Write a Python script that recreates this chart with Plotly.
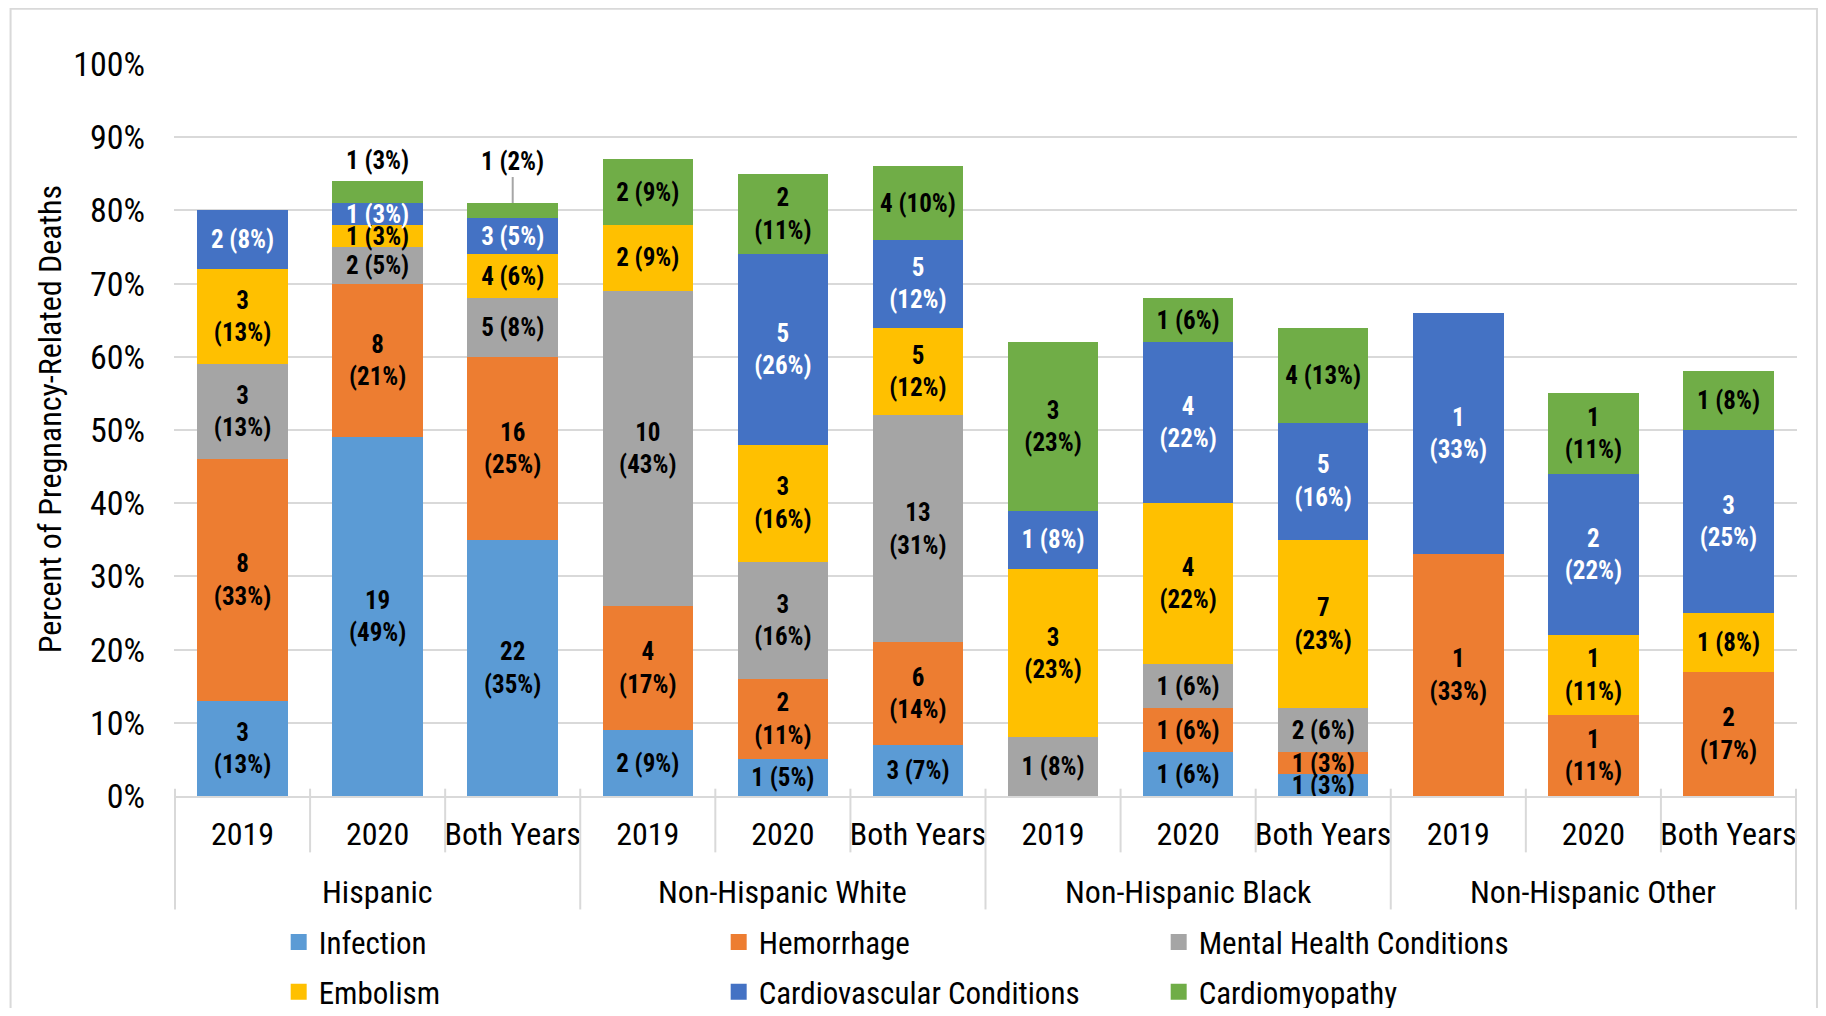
import plotly.graph_objects as go

group_names = ["Hispanic", "Non-Hispanic White", "Non-Hispanic Black", "Non-Hispanic Other"]
year_names = ["2019", "2020", "Both Years"]
groups = [g for g in group_names for _ in year_names]
years = year_names * len(group_names)

causes = ["Infection", "Hemorrhage", "Mental Health Conditions",
          "Embolism", "Cardiovascular Conditions", "Cardiomyopathy"]

# deaths (count) and percent of group deaths, per cause, None = no deaths
infection_n = [3, 19, 22, 2, 1, 3, None, 1, 1, None, None, None]
infection_pct = [13, 49, 35, 9, 5, 7, None, 6, 3, None, None, None]
hemorrhage_n = [8, 8, 16, 4, 2, 6, None, 1, 1, 1, 1, 2]
hemorrhage_pct = [33, 21, 25, 17, 11, 14, None, 6, 3, 33, 11, 17]
mental_n = [3, 2, 5, 10, 3, 13, 1, 1, 2, None, None, None]
mental_pct = [13, 5, 8, 43, 16, 31, 8, 6, 6, None, None, None]
embolism_n = [3, 1, 4, 2, 3, 5, 3, 4, 7, None, 1, 1]
embolism_pct = [13, 3, 6, 9, 16, 12, 23, 22, 23, None, 11, 8]
cardio_n = [2, 1, 3, None, 5, 5, 1, 4, 5, 1, 2, 3]
cardio_pct = [8, 3, 5, None, 26, 12, 8, 22, 16, 33, 22, 25]
cardiomyo_n = [None, 1, 1, 2, 2, 4, 3, 1, 4, None, 1, 1]
cardiomyo_pct = [None, 3, 2, 9, 11, 10, 23, 6, 13, None, 11, 8]

# which labels Excel wrapped onto two lines
wrapped = {
    "Infection": [0, 1, 2],
    "Hemorrhage": [0, 1, 2, 3, 4, 5, 9, 10, 11],
    "Mental Health Conditions": [0, 3, 4, 5],
    "Embolism": [0, 4, 5, 6, 7, 8, 10],
    "Cardiovascular Conditions": [4, 5, 7, 8, 9, 10, 11],
    "Cardiomyopathy": [4, 6, 10],
}

counts = [infection_n, hemorrhage_n, mental_n, embolism_n, cardio_n, cardiomyo_n]
pcts = [infection_pct, hemorrhage_pct, mental_pct, embolism_pct, cardio_pct, cardiomyo_pct]
colors = ["#5B9BD5", "#ED7D31", "#A5A5A5", "#FFC000", "#4472C4", "#70AD47"]
text_colors = ["black", "black", "black", "black", "white", "black"]
legend_rows = ["legend", "legend", "legend", "legend2", "legend2", "legend2"]

FONT = "Liberation Sans Narrow, Arial Narrow, Roboto Condensed, Arial, sans-serif"
GRID = "#D9D9D9"

# unique category keys, shown with the year as tick text
keys = [f"{g} {y}" for g, y in zip(groups, years)]

fig = go.Figure()

for cause, n, p, col, tcol, leg in zip(causes, counts, pcts, colors, text_colors, legend_rows):
    labels = []
    for i, (c, v) in enumerate(zip(n, p)):
        if c is None:
            labels.append("")
        elif cause == "Cardiomyopathy" and i in (1, 2):
            labels.append("")  # drawn above the bar instead
        elif i in wrapped[cause]:
            labels.append(f"{c}<br>({v}%)")
        else:
            labels.append(f"{c} ({v}%)")
    fig.add_trace(go.Bar(
        x=keys,
        y=p,
        name=cause,
        showlegend=False,
        marker=dict(color=col, line=dict(width=0)),
        text=labels,
        textposition="inside",
        insidetextanchor="middle",
        textangle=0,
        textfont=dict(family=FONT, size=25, color=tcol, weight="bold"),
        hoverinfo="skip",
    ))
    # legend entry with a larger square swatch
    fig.add_trace(go.Scatter(
        x=[None], y=[None], mode="markers", name=cause, legend=leg,
        marker=dict(symbol="square", size=16, color=col),
        hoverinfo="skip",
    ))

# small cardiomyopathy labels placed above the Hispanic bars
totals = [sum(v for v in col if v is not None) for col in zip(*pcts)]
fig.add_annotation(
    x=keys[1], y=totals[1], yanchor="bottom", yshift=4,
    text=f"{cardiomyo_n[1]} ({cardiomyo_pct[1]}%)", showarrow=False,
    font=dict(family=FONT, size=25, color="black", weight="bold"),
)
fig.add_annotation(
    x=keys[2], y=totals[2],
    text=f"{cardiomyo_n[2]} ({cardiomyo_pct[2]}%)",
    showarrow=True, arrowhead=0, arrowwidth=2, arrowcolor="#A6A6A6",
    ax=0, ay=-42, standoff=0,
    font=dict(family=FONT, size=25, color="black", weight="bold"),
)

# category separators below the axis and group labels
n_years = len(year_names)
for b in range(len(keys) + 1):
    is_group_edge = b % n_years == 0
    fig.add_shape(
        type="line", xref="x", yref="paper",
        x0=b - 0.5, x1=b - 0.5, y0=0.01, y1=-0.155 if is_group_edge else -0.077,
        line=dict(color=GRID, width=2),
    )
for gi, g in enumerate(group_names):
    fig.add_annotation(
        x=keys[gi * n_years + 1], xref="x", yref="paper", y=-0.1317, yanchor="middle",
        text=g, showarrow=False, font=dict(family=FONT, size=32, color="black"),
    )

# y title
fig.add_annotation(
    xref="paper", yref="paper", x=-0.0767, y=0.514, xanchor="center", yanchor="middle",
    text="Percent of Pregnancy-Related Deaths", textangle=-90,
    showarrow=False, font=dict(family=FONT, size=32, color="black"),
)

# chart border
fig.add_shape(
    type="rect", xref="paper", yref="paper",
    x0=-0.1007, x1=1.0123, y0=-0.32, y1=1.0755,
    line=dict(color=GRID, width=2), fillcolor="rgba(0,0,0,0)", layer="below",
)

legend_style = dict(
    orientation="h", x=0.0645, xanchor="left", yanchor="middle",
    entrywidth=395, entrywidthmode="pixels",
    font=dict(family=FONT, size=31, color="black"),
    traceorder="normal", bgcolor="rgba(0,0,0,0)",
)

fig.update_layout(
    barmode="stack",
    bargap=0.33,
    width=1810,
    height=1000,
    margin=dict(l=165.5, r=21, t=56, b=211.5, autoexpand=False),
    paper_bgcolor="white",
    plot_bgcolor="white",
    font=dict(family=FONT, size=32, color="black"),
    uniformtext=dict(minsize=25, mode="show"),
    showlegend=True,
    legend=dict(y=-0.2, **legend_style),
    legend2=dict(y=-0.268, **legend_style),
    xaxis=dict(
        type="category",
        tickmode="array", tickvals=keys, ticktext=years,
        tickangle=0,
        automargin=False,
        showline=True, linecolor=GRID, linewidth=2,
        ticks="", ticklabelstandoff=9,
        tickfont=dict(family=FONT, size=32, color="black"),
        showgrid=False,
    ),
    yaxis=dict(
        range=[0, 100], dtick=10, ticksuffix="%",
        automargin=False,
        showgrid=True, gridcolor=GRID, gridwidth=2,
        zeroline=False, showline=False,
        ticklabelstandoff=28,
        tickfont=dict(family=FONT, size=34, color="black"),
    ),
)

fig.write_html("out.html")
